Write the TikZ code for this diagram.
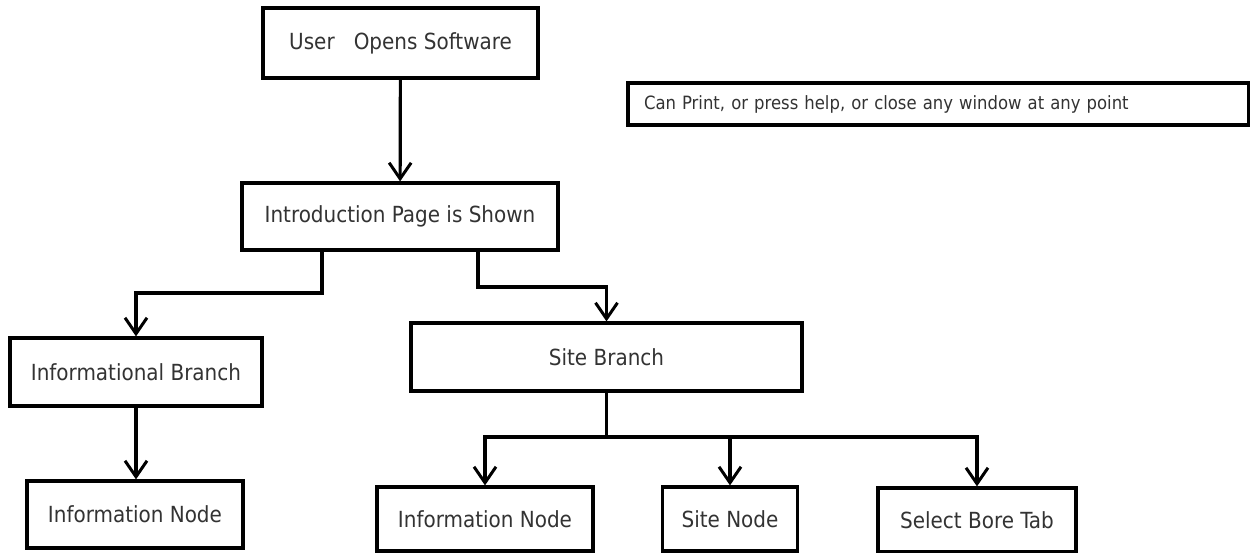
\documentclass[tikz,border=0pt]{standalone}
\usepackage{fontspec}
\setmainfont{DejaVu Sans Condensed}
\usepackage{tikz}
\usetikzlibrary{arrows.meta, positioning, calc}
\definecolor{textgray}{RGB}{51,51,51}

\begin{document}
\begin{tikzpicture}[
        x=1pt, y=-1pt,
        box/.style={draw, line width=3.2pt, fill=white, text=textgray, font=\fontsize{22.2}{25}\selectfont, inner sep=0pt},
        notebox/.style={box, font=\fontsize{18.3}{21}\selectfont, text width=589pt, align=left},
        arrow/.style={-{Straight Barb[length=16pt, width=22pt, line width=3pt]}, line width=3.2pt}
    ]
        \useasboundingbox (0,0) rectangle (1250,552);

        \node[box, minimum width=275pt, minimum height=70pt] (user) at (400.5,43) {User\ \ \ Opens Software};
        \node[box, minimum width=316pt, minimum height=67pt] (intro) at (400,216.5) {Introduction Page is Shown};
        \node[notebox, minimum width=621pt, minimum height=42pt] (note) at (938.5,104) {Can Print, or press help, or close any window at any point};
        \node[box, minimum width=252pt, minimum height=68pt] (info) at (136,372) {Informational Branch};
        \node[box, minimum width=216pt, minimum height=67pt] (infonode) at (135,514.5) {Information Node};
        \node[box, minimum width=391pt, minimum height=68pt] (site) at (606.5,357) {Site Branch};
        \node[box, minimum width=216pt, minimum height=64pt] (siteinfo) at (485,519) {Information Node};
        \node[box, minimum width=135pt, minimum height=64pt] (sitenode) at (730,519) {Site Node};
        \node[box, minimum width=198pt, minimum height=64pt] (bore) at (977,520) {Select Bore Tab};

        % split points
        \coordinate (lsplit) at (322,293);
        \coordinate (rsplit) at (478,287);
        \coordinate (bsplit) at (606.5,437);

        \draw[arrow] (user) -- (intro);
        \draw[arrow] (intro.south -| lsplit) -- (lsplit) -| (info.north);
        \draw[arrow] (intro.south -| rsplit) -- (rsplit) -| (site.north);
        \draw[arrow] (info.south) -- (info.south |- infonode.north);
        \draw[line width=3.2pt] (site.south) -- (bsplit);
        \draw[arrow] (bsplit) -| (siteinfo.north);
        \draw[arrow] (bsplit) -| (sitenode.north);
        \draw[arrow] (bsplit) -| (bore.north);
    \end{tikzpicture}
\end{document}
